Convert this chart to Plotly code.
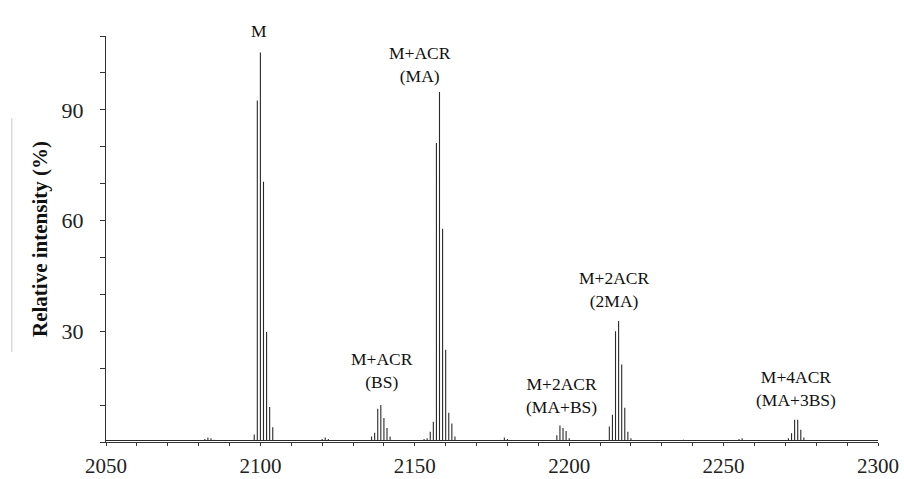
import plotly.graph_objects as go

# Peak lists (m/z, relative intensity %)
m_mz = [2098, 2099, 2100, 2101, 2102, 2103, 2104]
m_int = [2.0, 92.5, 105.5, 70.5, 29.8, 9.5, 4.0]

ma_mz = [2155, 2156, 2157, 2158, 2159, 2160, 2161, 2162, 2163]
ma_int = [2.8, 5.5, 81.0, 94.8, 57.8, 25.0, 7.9, 5.0, 1.5]

bs_mz = [2136, 2137, 2138, 2139, 2140, 2141, 2142]
bs_int = [1.5, 2.5, 9.0, 10.0, 6.5, 3.8, 1.5]

mabs_mz = [2196, 2197, 2198, 2199, 2200]
mabs_int = [1.8, 4.5, 3.8, 3.0, 1.0]

twoma_mz = [2213, 2214, 2215, 2216, 2217, 2218, 2219, 2220]
twoma_int = [4.2, 7.4, 30.0, 32.8, 21.0, 9.3, 2.8, 1.0]

ma3bs_mz = [2271, 2272, 2273, 2274, 2275, 2276]
ma3bs_int = [1.0, 2.4, 6.0, 6.0, 3.3, 1.2]

minor_mz = [2082, 2083, 2084, 2085, 2120, 2121, 2122, 2153, 2154, 2179, 2180, 2237, 2255, 2256]
minor_int = [0.8, 1.2, 1.0, 0.6, 0.8, 1.2, 0.8, 0.8, 1.0, 1.2, 0.8, 0.6, 0.8, 1.0]

baseline = 0.4
x_start, x_end = 2050, 2300

# labels: (text, x in m/z, y in %)
labels = ["M", "M+ACR<br>(MA)", "M+ACR<br>(BS)", "M+2ACR<br>(MA+BS)", "M+2ACR<br>(2MA)", "M+4ACR<br>(MA+3BS)"]
label_x = [2099.7, 2151.6, 2139.4, 2197.6, 2214.6, 2273.5]
label_y = [108.0, 96.0, 13.0, 6.3, 35.0, 8.0]

peaks = []
for mz, it in [(m_mz, m_int), (ma_mz, ma_int), (bs_mz, bs_int), (mabs_mz, mabs_int),
               (twoma_mz, twoma_int), (ma3bs_mz, ma3bs_int), (minor_mz, minor_int)]:
    peaks += list(zip(mz, it))
peaks.sort()

xs = [x_start]
ys = [baseline]
for mz, it in peaks:
    xs += [mz, mz, mz]
    ys += [baseline, it, baseline]
xs.append(x_end)
ys.append(baseline)

fig = go.Figure()
fig.add_trace(go.Scatter(x=xs, y=ys, mode="lines",
                         line=dict(color="#2a2a2a", width=1.1),
                         hoverinfo="skip", showlegend=False))

font_serif = "Liberation Serif, Times New Roman, serif"
for t, x, y in zip(labels, label_x, label_y):
    fig.add_annotation(x=x, y=y, text=t, showarrow=False, xanchor="center", yanchor="bottom",
                       font=dict(family=font_serif, size=17.5, color="#111"))

fig.add_shape(type="line", xref="paper", yref="paper", x0=-0.122, x1=-0.122, y0=0.222, y1=0.798,
              line=dict(color="#c8c8c8", width=1))

fig.update_layout(
    width=904, height=479,
    margin=dict(l=106, r=26, t=36, b=37),
    paper_bgcolor="white", plot_bgcolor="white",
    xaxis=dict(range=[x_start, x_end], tickvals=[2050, 2100, 2150, 2200, 2250, 2300],
               automargin=False,
               showgrid=False, zeroline=False, showline=True, linecolor="#333", linewidth=1,
               ticks="outside", ticklen=3, tickcolor="#333",
               minor=dict(dtick=10, tick0=2050, ticks="outside", ticklen=3, tickcolor="#333"),
               tickfont=dict(family=font_serif, size=21, color="#222"),
               ticklabelstandoff=2),
    yaxis=dict(range=[0, 110], tickvals=[30, 60, 90],
               automargin=False,
               showgrid=False, zeroline=False, showline=True, linecolor="#333", linewidth=1,
               ticks="outside", ticklen=5, tickcolor="#333",
               minor=dict(dtick=10, tick0=0, ticks="outside", ticklen=5, tickcolor="#333"),
               tickfont=dict(family=font_serif, size=22, color="#222"),
               ticklabelstandoff=12,
               title=dict(text="<b>Relative intensity (%)</b>", standoff=8,
                          font=dict(family=font_serif, size=21, color="#111"))),
)

fig.write_html("out.html")
